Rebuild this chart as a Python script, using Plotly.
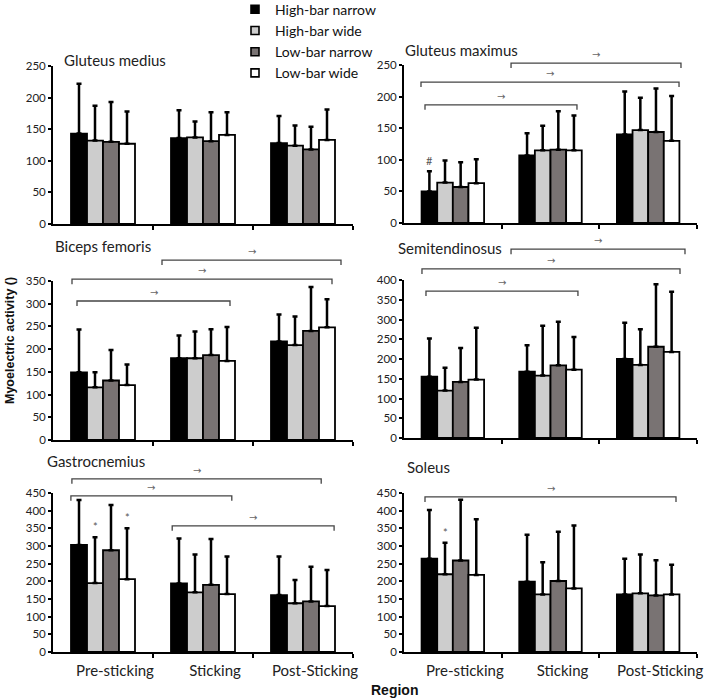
import plotly.graph_objects as go

# ---------------- data ----------------
categories = ["Pre-sticking", "Sticking", "Post-Sticking"]
conditions = ["High-bar narrow", "High-bar wide", "Low-bar narrow", "Low-bar wide"]
muscles = ["Gluteus medius", "Gluteus maximus", "Biceps femoris",
           "Semitendinosus", "Gastrocnemius", "Soleus"]

# mean values per condition (rows) x region (columns)
gluteus_medius_mean = [[143, 136, 128], [132, 137, 124], [130, 131, 118], [127, 141, 133]]
gluteus_medius_sd = [[79, 44, 43], [55, 25, 32], [63, 46, 36], [51, 36, 48]]

gluteus_maximus_mean = [[50, 107, 140], [64, 115, 147], [57, 116, 144], [63, 115, 130]]
gluteus_maximus_sd = [[32, 35, 68], [35, 39, 51], [39, 61, 69], [38, 55, 71]]

biceps_femoris_mean = [[149, 180, 217], [116, 180, 209], [131, 187, 240], [121, 174, 248]]
biceps_femoris_sd = [[94, 50, 59], [33, 59, 63], [67, 57, 97], [45, 75, 62]]

semitendinosus_mean = [[155, 168, 200], [120, 158, 185], [142, 184, 231], [148, 173, 218]]
semitendinosus_sd = [[97, 67, 92], [58, 126, 90], [86, 110, 158], [131, 83, 152]]

gastrocnemius_mean = [[303, 194, 161], [195, 169, 138], [288, 190, 143], [206, 164, 130]]
gastrocnemius_sd = [[127, 127, 109], [130, 107, 66], [128, 130, 98], [144, 106, 102]]

soleus_mean = [[264, 199, 163], [220, 163, 166], [259, 201, 160], [218, 180, 163]]
soleus_sd = [[138, 133, 101], [89, 91, 110], [172, 139, 100], [158, 178, 84]]

means = [gluteus_medius_mean, gluteus_maximus_mean, biceps_femoris_mean,
         semitendinosus_mean, gastrocnemius_mean, soleus_mean]
sds = [gluteus_medius_sd, gluteus_maximus_sd, biceps_femoris_sd,
       semitendinosus_sd, gastrocnemius_sd, soleus_sd]
y_max = [250, 250, 350, 400, 450, 450]

# significance brackets per panel: (x start, x end, level) in data units
brackets = {
    1: [(0.596, 2.336, 253), (-0.326, 2.316, 223), (-0.285, 1.271, 187)],
    2: [(0.59, 2.38, 396), (-0.31, 2.29, 354), (-0.26, 1.27, 306)],
    3: [(0.596, 2.377, 478), (-0.316, 2.326, 428), (-0.275, 1.281, 372)],
    4: [(-0.311, 2.182, 490), (-0.321, 1.288, 442), (0.692, 2.311, 357)],
    5: [(-0.285, 2.285, 439)],
}
# marks above single bars: (panel, condition, region, text)
bar_marks = [(1, 0, 0, "#"), (4, 1, 0, "*"), (4, 3, 0, "*"), (5, 1, 0, "*")]

# ---------------- style ----------------
colors = ["#000000", "#cdcdcd", "#797373", "#ffffff"]
W, H = 708, 700
x_left = [53 / W, 353 / W]
x_right = [404 / W, 697 / W]
y_doms = [
    [1 - 224 / H, 1 - 66 / H],
    [1 - 223 / H, 1 - 65 / H],
    [1 - 440 / H, 1 - 281 / H],
    [1 - 438 / H, 1 - 280 / H],
    [1 - 652 / H, 1 - 493 / H],
    [1 - 652 / H, 1 - 493 / H],
]
title_pos = [(62, 60), (403, 50), (53, 246), (396, 248), (45, 461), (405, 467)]
FONT = "Lato"
x_pos = [0, 1, 2]

fig = go.Figure()

for p in range(6):
    xa = "x" if p == 0 else f"x{p + 1}"
    ya = "y" if p == 0 else f"y{p + 1}"
    for i, cond in enumerate(conditions):
        fig.add_trace(go.Bar(
            x=x_pos, y=means[p][i], name=cond, showlegend=False,
            marker=dict(color=colors[i], line=dict(color="black", width=1.8)),
            error_y=dict(type="data", symmetric=False, array=sds[p][i],
                         arrayminus=[0, 0, 0], color="black",
                         thickness=2.5, width=2.5),
            xaxis=xa, yaxis=ya,
        ))

# legend entries
for i, cond in enumerate(conditions):
    fig.add_trace(go.Scatter(
        x=[None], y=[None], mode="markers", name=cond,
        marker=dict(symbol="square", size=8, color=colors[i],
                    line=dict(color="black", width=1.6)),
        xaxis="x", yaxis="y",
    ))

layout = dict(
    width=W, height=H, margin=dict(l=0, r=0, t=0, b=0, autoexpand=False),
    paper_bgcolor="white", plot_bgcolor="white",
    barmode="group", bargap=0.36, bargroupgap=0,
    font=dict(family=FONT, color="#222"),
    legend=dict(x=235 / W, y=1.009, xanchor="left", yanchor="top",
                bgcolor="rgba(0,0,0,0)", font=dict(size=14, family=FONT, color="#111"),
                tracegroupgap=0, itemwidth=30),
    annotations=[], shapes=[],
)

for p in range(6):
    n = p + 1
    xkey = "xaxis" if p == 0 else f"xaxis{n}"
    ykey = "yaxis" if p == 0 else f"yaxis{n}"
    xa = "x" if p == 0 else f"x{n}"
    ya = "y" if p == 0 else f"y{n}"
    bottom = p >= 4
    layout[xkey] = dict(
        domain=x_left if p % 2 == 0 else x_right, anchor=ya,
        range=[-0.5, 2.5], showline=True, linecolor="black", linewidth=1.8,
        tickmode="array", tickvals=x_pos, ticktext=categories,
        showticklabels=bottom, ticks="", showgrid=False, zeroline=False,
        ticklabelshift=12, ticklabelstandoff=4, automargin=False,
        tickfont=dict(size=15, family=FONT, color="#222"),
        minor=dict(tickmode="array", tickvals=[0.5, 1.5, 2.5], ticks="outside",
                   ticklen=4, tickwidth=1.5, tickcolor="black", showgrid=False),
    )
    layout[ykey] = dict(
        domain=y_doms[p], anchor=xa, range=[0, y_max[p]], dtick=50,
        showline=True, linecolor="black", linewidth=1.8, automargin=False,
        ticks="outside", ticklen=3, tickwidth=1.5, tickcolor="black",
        showgrid=False, zeroline=False,
        tickfont=dict(size=11.5, family=FONT, color="#222"),
    )
    # panel title
    tx, ty = title_pos[p]
    layout["annotations"].append(dict(
        text=muscles[p], x=tx / W, y=1 - ty / H, xref="paper", yref="paper",
        xanchor="left", yanchor="middle", showarrow=False,
        font=dict(size=15, family=FONT, color="#222"),
    ))
    # brackets
    ph = (y_doms[p][1] - y_doms[p][0]) * H
    drop = 5 / ph
    for (x0, x1, lvl) in brackets.get(p, []):
        fx0, fx1 = (x0 + 0.5) / 3, (x1 + 0.5) / 3
        fy = lvl / y_max[p]
        layout["shapes"].append(dict(
            type="path", xref=f"{xa} domain", yref=f"{ya} domain",
            path=f"M{fx0},{fy - drop} L{fx0},{fy} L{fx1},{fy} L{fx1},{fy - drop}",
            line=dict(color="#444", width=1.3),
        ))
        layout["annotations"].append(dict(
            text="→", x=(fx0 + fx1) / 2, y=fy, xref=f"{xa} domain", yref=f"{ya} domain",
            xanchor="center", yanchor="bottom", yshift=1, showarrow=False,
            font=dict(size=10, family="DejaVu Sans", color="#666"),
        ))

for (p, ci, ri, txt) in bar_marks:
    xa = "x" if p == 0 else f"x{p + 1}"
    ya = "y" if p == 0 else f"y{p + 1}"
    top = means[p][ci][ri] + sds[p][ci][ri]
    layout["annotations"].append(dict(
        text=txt, x=x_pos[ri] - 0.24 + 0.16 * ci, y=top, xref=xa, yref=ya,
        xanchor="center", yanchor="bottom", yshift=2, showarrow=False,
        font=dict(size=11, color="#555"),
    ))

layout["annotations"].append(dict(
    text="<b>Myoelectric activity ()</b>", x=10 / W, y=1 - 341 / H,
    xref="paper", yref="paper", textangle=-90, showarrow=False,
    xanchor="center", yanchor="middle",
    font=dict(size=12.5, family="Liberation Sans", color="#111"),
))
layout["annotations"].append(dict(
    text="<b>Region</b>", x=394 / W, y=1 - 690 / H,
    xref="paper", yref="paper", showarrow=False,
    xanchor="center", yanchor="middle",
    font=dict(size=14, family="Liberation Sans", color="#111"),
))

fig.update_layout(**layout)
fig.write_html("out.html", config={"displayModeBar": False},
               post_script="document.body.style.margin='0';document.body.style.overflow='hidden';")
